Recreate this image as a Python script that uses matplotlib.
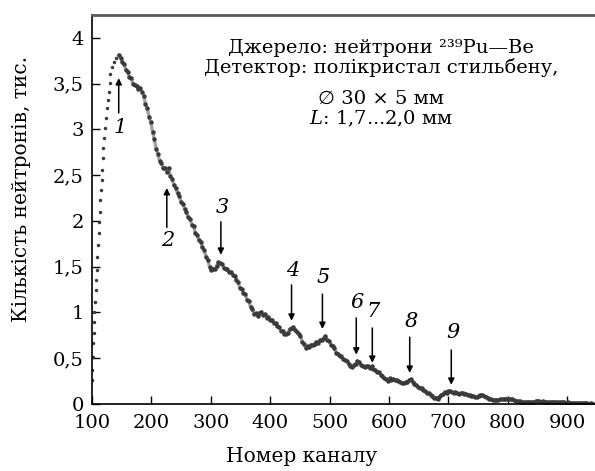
import numpy as np
import matplotlib
matplotlib.use("Agg")
import matplotlib.pyplot as plt

plt.rcParams['font.family'] = ['DejaVu Serif', 'DejaVu Sans']
plt.rcParams['mathtext.fontset'] = 'dejavuserif'

# rising edge of the spectrum (channel, thousands of counts)
rise_ch = [100, 100, 101, 102, 103, 103, 104, 105, 106, 107, 108, 109, 110,
           111, 112, 113, 114, 115, 116, 117, 118, 119, 121, 122, 124, 125,
           127, 128, 130, 131, 134, 137, 141]
rise_val = [0.26, 0.37, 0.51, 0.67, 0.78, 0.90, 1.00, 1.11, 1.25, 1.36, 1.46,
            1.61, 1.74, 1.87, 1.99, 2.10, 2.23, 2.34, 2.45, 2.56, 2.69, 2.80,
            2.91, 3.02, 3.13, 3.23, 3.32, 3.41, 3.51, 3.60, 3.68, 3.74, 3.78]

# falling part, every 3rd channel from 145
fall_ch = np.arange(145, 946, 3)
fall_val = [
    3.81, 3.78, 3.74, 3.71, 3.65, 3.63, 3.57, 3.56, 3.50, 3.49,
    3.47, 3.44, 3.45, 3.41, 3.37, 3.28, 3.23, 3.14, 3.08, 2.97,
    2.89, 2.79, 2.73, 2.65, 2.63, 2.58, 2.58, 2.53, 2.58, 2.49,
    2.46, 2.39, 2.36, 2.30, 2.27, 2.21, 2.19, 2.13, 2.10, 2.04,
    2.02, 1.96, 1.94, 1.87, 1.85, 1.79, 1.77, 1.71, 1.68, 1.61,
    1.57, 1.50, 1.46, 1.48, 1.47, 1.51, 1.55, 1.54, 1.53, 1.49,
    1.48, 1.47, 1.44, 1.44, 1.41, 1.40, 1.35, 1.33, 1.27, 1.26,
    1.21, 1.20, 1.14, 1.12, 1.06, 1.04, 0.98, 0.99, 0.96, 0.99,
    1.01, 0.97, 0.98, 0.94, 0.95, 0.92, 0.92, 0.88, 0.88, 0.85,
    0.84, 0.80, 0.80, 0.76, 0.77, 0.78, 0.82, 0.83, 0.84, 0.81,
    0.79, 0.76, 0.74, 0.68, 0.66, 0.61, 0.63, 0.62, 0.65, 0.64,
    0.66, 0.68, 0.67, 0.70, 0.70, 0.72, 0.74, 0.70, 0.69, 0.65,
    0.63, 0.61, 0.56, 0.55, 0.52, 0.52, 0.49, 0.48, 0.47, 0.44,
    0.42, 0.40, 0.43, 0.44, 0.47, 0.46, 0.43, 0.42, 0.40, 0.41,
    0.41, 0.39, 0.41, 0.38, 0.37, 0.35, 0.35, 0.32, 0.31, 0.28,
    0.27, 0.25, 0.28, 0.26, 0.27, 0.26, 0.26, 0.25, 0.24, 0.23,
    0.23, 0.24, 0.24, 0.26, 0.27, 0.24, 0.22, 0.21, 0.19, 0.18,
    0.17, 0.15, 0.14, 0.12, 0.12, 0.10, 0.09, 0.07, 0.07, 0.06,
    0.08, 0.10, 0.11, 0.13, 0.12, 0.14, 0.14, 0.13, 0.12, 0.13,
    0.12, 0.11, 0.12, 0.12, 0.11, 0.11, 0.10, 0.10, 0.09, 0.09,
    0.08, 0.08, 0.09, 0.10, 0.10, 0.09, 0.08, 0.07, 0.06, 0.05,
    0.04, 0.04, 0.04, 0.04, 0.05, 0.05, 0.05, 0.06, 0.06, 0.05,
    0.05, 0.05, 0.04, 0.03, 0.03, 0.03, 0.02, 0.02, 0.02, 0.02,
    0.02, 0.02, 0.02, 0.02, 0.03, 0.03, 0.03, 0.02, 0.03, 0.02,
    0.02, 0.02, 0.02, 0.02, 0.02, 0.02, 0.02, 0.02, 0.02, 0.02,
    0.02, 0.01, 0.02, 0.01, 0.01, 0.01, 0.01, 0.01, 0.01, 0.01,
    0.01, 0.01, 0.01, 0.01, 0.00, 0.01, 0.00,
]

# numbered peaks: channel, arrow tail, arrow tip, label height
peak_names = ['1', '2', '3', '4', '5', '6', '7', '8', '9']
peak_ch = [145, 226, 317, 436, 488, 545, 572, 635, 705]
peak_tail = [3.18, 1.93, 1.99, 1.30, 1.20, 0.94, 0.83, 0.73, 0.59]
peak_tip = [3.56, 2.36, 1.63, 0.91, 0.82, 0.54, 0.45, 0.34, 0.21]
peak_label = [3.02, 1.79, 2.15, 1.46, 1.38, 1.11, 1.01, 0.90, 0.78]

yticks = [0, 0.5, 1, 1.5, 2, 2.5, 3, 3.5, 4]
ytick_labels = ['0', '0,5', '1', '1,5', '2', '2,5', '3', '3,5', '4']
xticks = [100, 200, 300, 400, 500, 600, 700, 800, 900]

W, H = 595, 471
fig = plt.figure(figsize=(W / 100, H / 100), dpi=100)
ax = fig.add_axes([92 / W, 1 - 404 / H, 1 - 92 / W, (404 - 15) / H])

dot = '#3a3a3a'
ax.plot(rise_ch, rise_val, 'o', ms=2.5, color=dot, mew=0)
ax.plot(fall_ch, fall_val, '-', lw=2.4, color='#555555', alpha=0.55)
ax.plot(fall_ch, fall_val, 'o', ms=3.2, color=dot, mew=0)

for name, ch, tail, tip, lab in zip(peak_names, peak_ch, peak_tail,
                                    peak_tip, peak_label):
    ax.annotate('', xy=(ch, tip), xytext=(ch, tail),
                arrowprops=dict(arrowstyle='-|>', lw=1.1, color='k',
                                mutation_scale=9, shrinkA=0, shrinkB=0))
    ax.text(ch + 2, lab, name, fontsize=15, style='italic',
            ha='center', va='center')

ax.set_xlim(100, 947)
ax.set_ylim(0, 4.25)
ax.set_yticks(yticks)
ax.set_yticklabels(ytick_labels)
ax.set_xticks(xticks)
ax.tick_params(direction='in', length=6, width=1, labelsize=14)
ax.tick_params(axis='y', pad=6)
ax.tick_params(axis='x', pad=7)

ax.spines['right'].set_visible(False)
ax.spines['top'].set_color('#5a5a5a')
ax.spines['top'].set_linewidth(2)
ax.spines['left'].set_linewidth(1.2)
ax.spines['bottom'].set_linewidth(1.2)

fig.text(22 / W, 1 - 189 / H, 'Кількість нейтронів, тис.', rotation=90,
         fontsize=14.5, ha='center', va='center')
fig.text(302 / W, 1 - 457 / H, 'Номер каналу', fontsize=14.5,
         ha='center', va='center')

cx = 381 / W
fig.text(cx, 1 - 53 / H, 'Джерело: нейтрони ²³⁹Pu—Be', fontsize=14,
         ha='center', va='baseline')
fig.text(cx, 1 - 73 / H, 'Детектор: полікристал стильбену,', fontsize=14,
         ha='center', va='baseline')
fig.text(cx, 1 - 104 / H, '∅ 30 × 5 мм', fontsize=14,
         ha='center', va='baseline')
fig.text(cx, 1 - 124 / H, '$L$: 1,7...2,0 мм', fontsize=14,
         ha='center', va='baseline')

fig.savefig('out.png', dpi=100)
